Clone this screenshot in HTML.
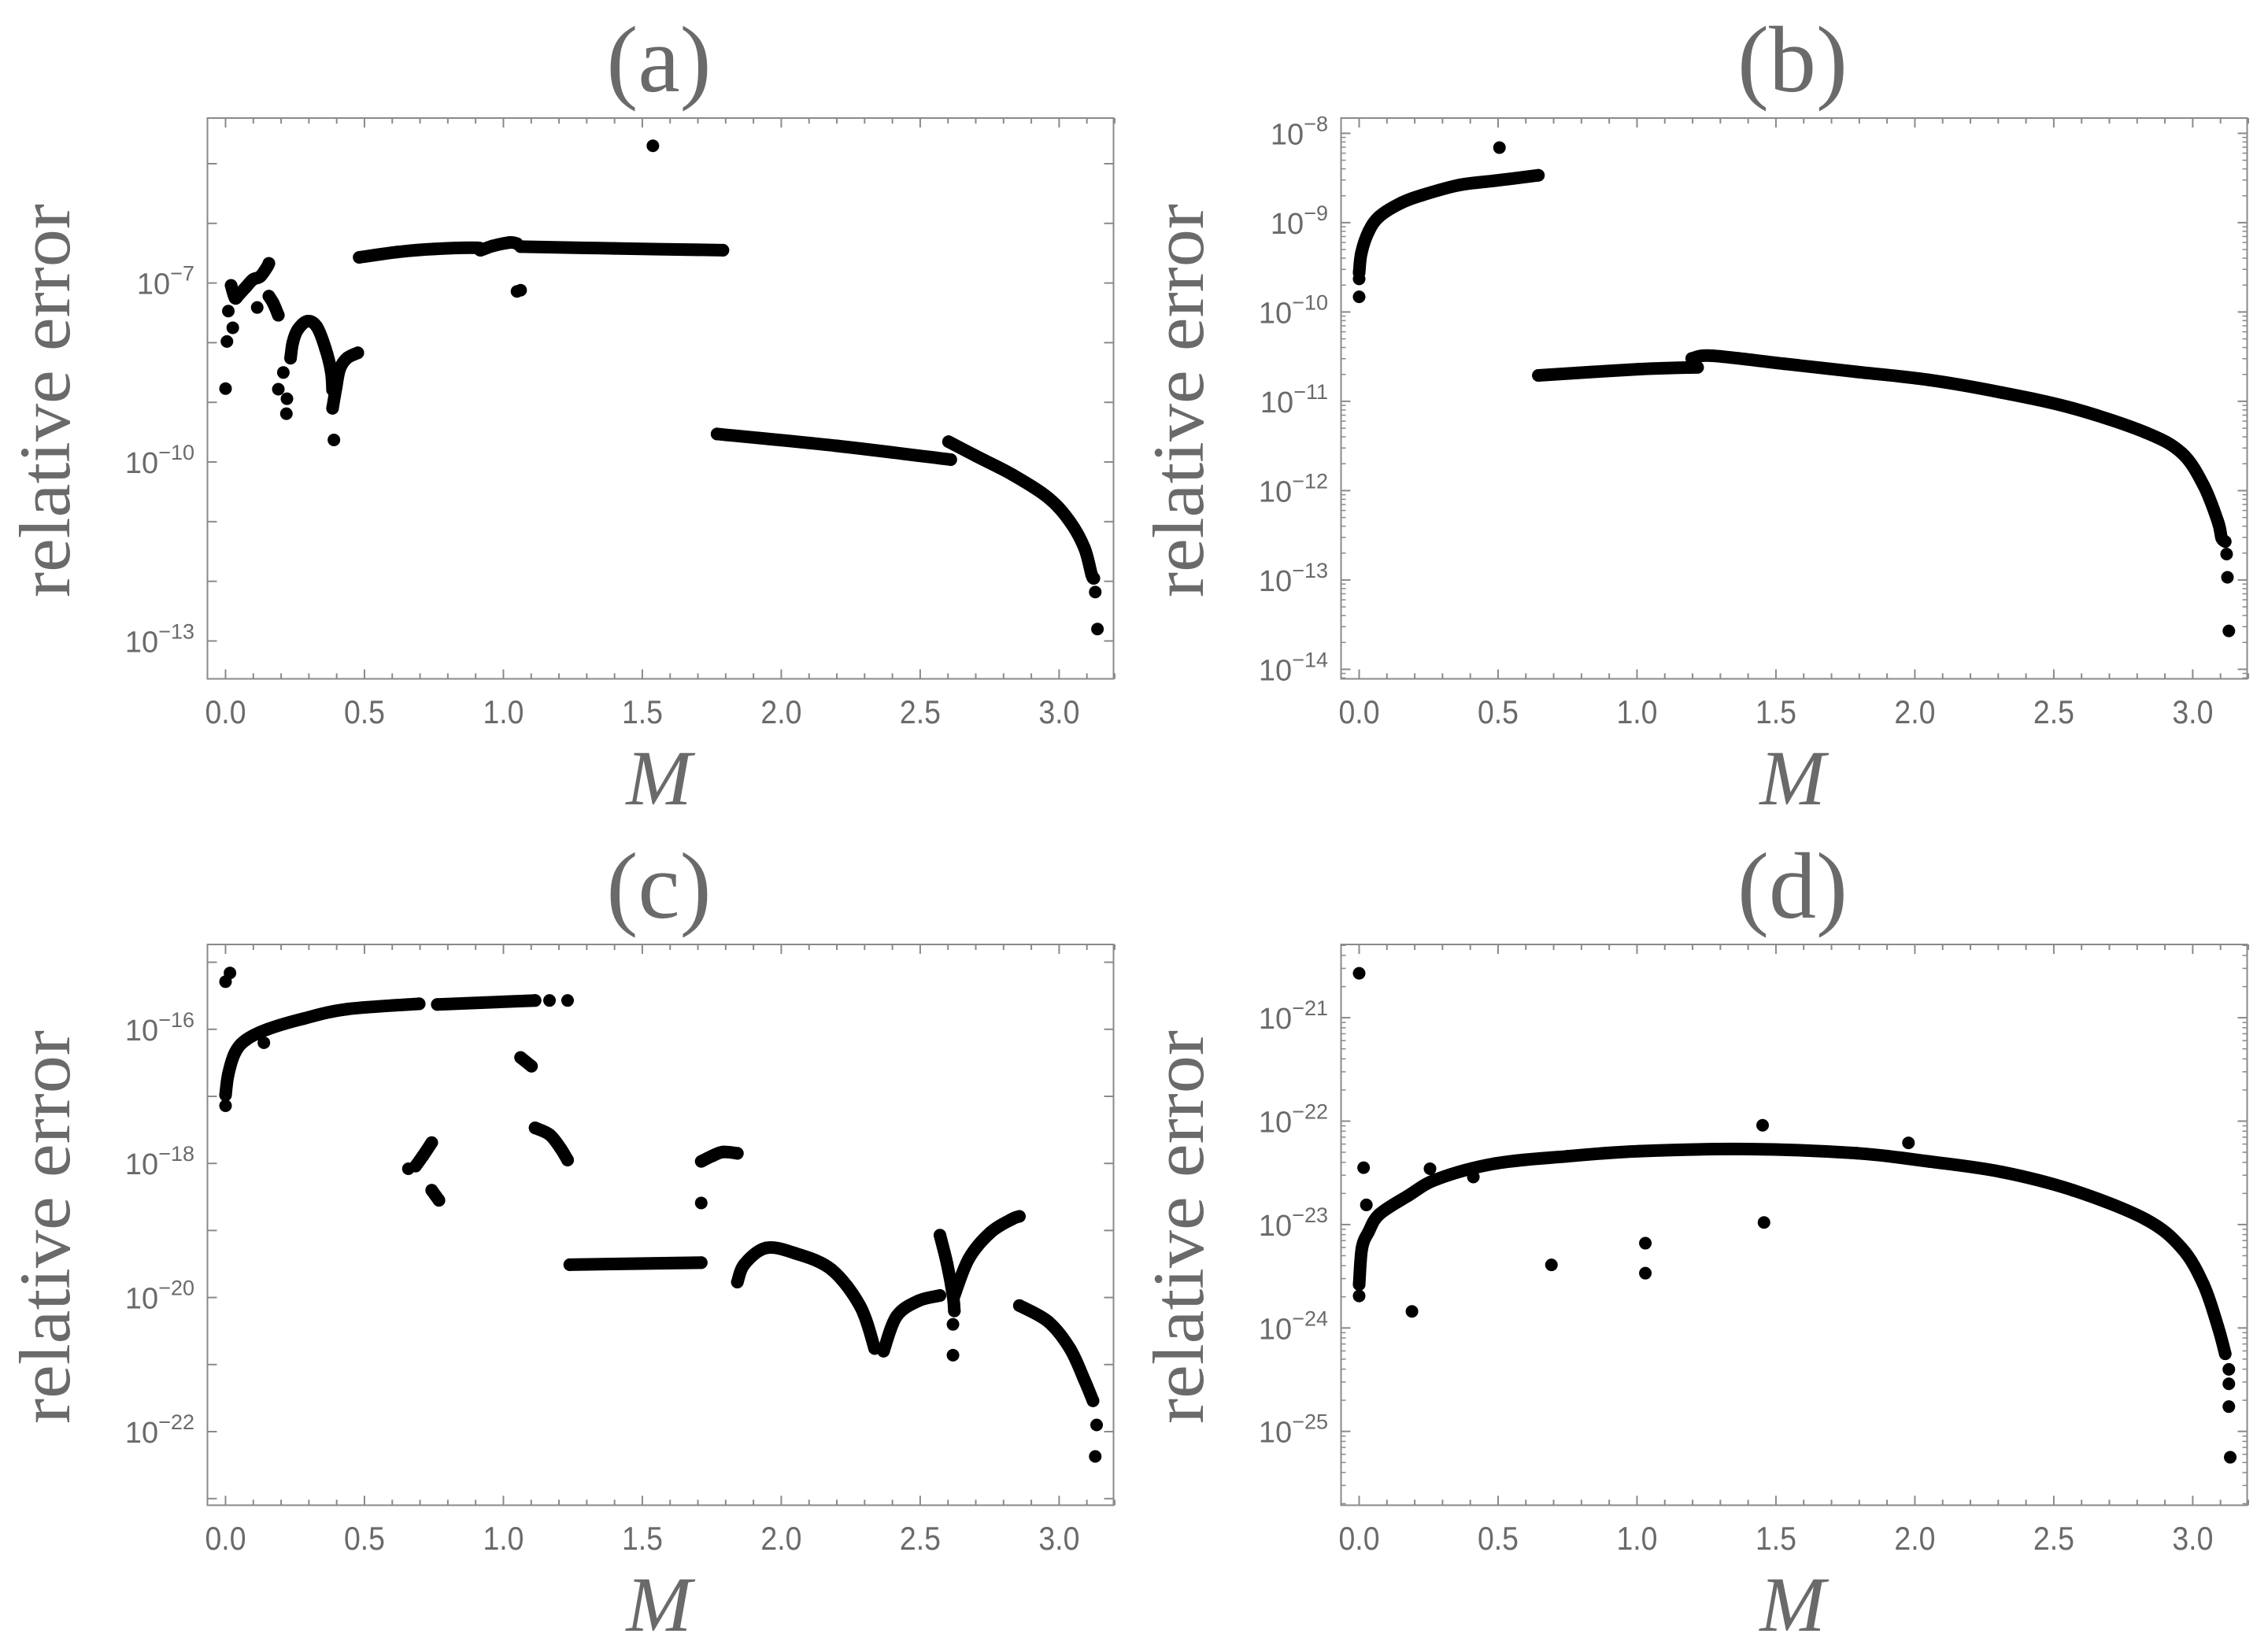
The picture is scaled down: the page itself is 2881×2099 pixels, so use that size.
<!DOCTYPE html>
<html><head><meta charset="utf-8">
<style>
html,body{margin:0;padding:0;background:#fff;}
svg{display:block;}
text{fill:#6a6a6a;}
</style></head>
<body>
<svg id="fig" width="2881" height="2099" viewBox="0 0 2881 2099" xmlns="http://www.w3.org/2000/svg"></svg>
<script>
// ---------- DATA (M values and log10 relative error) ----------
// Panel (a)
const aSegM = [[0.02,0.034,0.047,0.073,0.099,0.125,0.151,0.156],[0.156,0.172,0.19],[0.234,0.242,0.26,0.294,0.328,0.359,0.38,0.385],[0.385,0.398,0.411,0.437,0.476],[0.481,0.619,0.749,0.905,0.918,0.96,1.023,1.049],[1.062,1.4,1.79],[1.769,2.2,2.61],[2.602,2.701,2.831,2.961,3.039,3.091,3.117,3.125]];
const aSegE = [[-7.04,-7.25,-7.2,-7.07,-6.94,-6.89,-6.72,-6.67],[-7.22,-7.34,-7.54],[-8.26,-8.0,-7.78,-7.64,-7.73,-8.09,-8.48,-8.79],[-9.1,-8.75,-8.44,-8.26,-8.17],[-6.57,-6.48,-6.43,-6.41,-6.45,-6.38,-6.32,-6.34],[-6.39,-6.42,-6.45],[-9.53,-9.73,-9.96],[-9.66,-9.9,-10.21,-10.6,-11.0,-11.44,-11.89,-11.95]];
const aPtM = [0,0.005,0.01,0.026,0.114,0.19,0.208,0.221,0.219,0.39,1.049,1.062,1.538,3.13,3.138];
const aPtE = [-8.77,-7.98,-7.47,-7.75,-7.41,-8.78,-8.5,-8.94,-9.19,-9.63,-7.14,-7.12,-4.70,-12.18,-12.8];
// Panel (b)
const bSegM = [[0,0.008,0.034,0.073,0.151,0.229,0.359,0.489,0.645],[0.645,1.01,1.218],[1.197,1.27,1.53,1.79,2.05,2.31,2.571,2.831,2.961,3.039,3.091,3.104,3.117]];
const bSegE = [[-9.56,-9.34,-9.10,-8.93,-8.78,-8.69,-8.58,-8.53,-8.47],[-10.71,-10.64,-10.62],[-10.52,-10.49,-10.58,-10.67,-10.76,-10.9,-11.08,-11.35,-11.58,-11.94,-12.35,-12.53,-12.57]];
const bPtM = [0,0,0.505,3.122,3.125,3.13];
const bPtE = [-9.63,-9.83,-8.16,-12.71,-12.97,-13.57];
// Panel (c)
const cSegM = [[0,0.01,0.034,0.073,0.151,0.281,0.437,0.697],[0.762,1.114],[1.062,1.101],[0.684,0.71,0.742],[0.742,0.768],[1.114,1.166,1.205,1.231],[1.712,1.751,1.79,1.842],[1.239,1.712],[1.842,1.868,1.946,2.05,2.18,2.284,2.336],[2.368,2.415,2.493,2.571],[2.571,2.597,2.618,2.623],[2.623,2.675,2.753,2.831,2.857],[2.857,2.961,3.039,3.091,3.122]];
const cSegE = [[-16.98,-16.67,-16.35,-16.16,-16.0,-15.84,-15.7,-15.62],[-15.63,-15.57],[-16.42,-16.55],[-18.04,-17.89,-17.69],[-18.4,-18.55],[-17.47,-17.57,-17.77,-17.95],[-17.97,-17.89,-17.83,-17.85],[-19.51,-19.48],[-19.77,-19.5,-19.26,-19.34,-19.58,-20.13,-20.76],[-20.8,-20.28,-20.05,-19.97],[-19.07,-19.5,-19.97,-20.2],[-19.97,-19.42,-19.03,-18.83,-18.79],[-20.12,-20.36,-20.76,-21.23,-21.54]];
const cPtM = [0,0.016,0,0.138,0.658,1.166,1.231,1.712,2.618,2.618,3.13,3.135];
const cPtE = [-15.29,-15.16,-17.14,-16.2,-18.08,-15.57,-15.57,-18.59,-20.86,-20.4,-22.37,-21.9];
// Panel (d)
const dSegM = [[0,0.01,0.034,0.073,0.177,0.281,0.489,0.749,1.01,1.4,1.79,2.05,2.31,2.571,2.831,2.961,3.039,3.091,3.117]];
const dSegE = [[-23.58,-23.23,-23.07,-22.9,-22.72,-22.56,-22.41,-22.34,-22.29,-22.27,-22.31,-22.39,-22.49,-22.67,-22.95,-23.23,-23.58,-23.99,-24.25]];
const dPtM = [0,0,0.016,0.026,0.19,0.255,0.411,0.692,1.03,1.03,1.452,1.457,1.977,3.13,3.13,3.13,3.135];
const dPtE = [-20.57,-23.69,-22.45,-22.81,-23.84,-22.46,-22.54,-23.39,-23.18,-23.47,-22.04,-22.98,-22.21,-24.4,-24.54,-24.76,-25.25];
// Axis ticks
const xTickLabels = ["0.0","0.5","1.0","1.5","2.0","2.5","3.0"];
const aYLabels = [-7,-10,-13];
const bYLabels = [-8,-9,-10,-11,-12,-13,-14];
const cYLabels = [-16,-18,-20,-22];
const dYLabels = [-21,-22,-23,-24,-25];

// ---------- LAYOUT ----------
const NS = "http://www.w3.org/2000/svg";
const svg = document.getElementById('fig');
function mk(tag, attrs, parent) {
  const e = document.createElementNS(NS, tag);
  for (const k in attrs) e.setAttribute(k, attrs[k]);
  parent.appendChild(e);
  return e;
}
const FL = 263.5, FR = 1414.5, FT = 150, FB = 862.5;
const X0 = 286.5, XU = 352.96;

function smoothPath(P) {
  if (P.length < 3) return 'M' + P.map(p => p[0].toFixed(1) + ',' + p[1].toFixed(1)).join(' L');
  let d = 'M' + P[0][0].toFixed(1) + ',' + P[0][1].toFixed(1);
  for (let i = 0; i < P.length - 1; i++) {
    const p0 = P[Math.max(0, i - 1)], p1 = P[i], p2 = P[i + 1], p3 = P[Math.min(P.length - 1, i + 2)];
    const c1x = p1[0] + (p2[0] - p0[0]) / 6, c1y = p1[1] + (p2[1] - p0[1]) / 6;
    const c2x = p2[0] - (p3[0] - p1[0]) / 6, c2y = p2[1] - (p3[1] - p1[1]) / 6;
    d += ` C${c1x.toFixed(1)},${c1y.toFixed(1)} ${c2x.toFixed(1)},${c2y.toFixed(1)} ${p2[0].toFixed(1)},${p2[1].toFixed(1)}`;
  }
  return d;
}

function panel(ox, oy, title, ymin, ymax, refE, refY, decPx, labels, subticks, segM, segE, ptM, ptE, key) {
  const g = mk('g', {transform: `translate(${ox},${oy})`}, svg);
  
  
  const xs = m => X0 + m * XU;
  const ys = e => refY - (e - refE) * decPx;

  const t = mk('text', {x: 837, y: 116, 'text-anchor': 'middle', 'font-family': '"Liberation Serif", serif', 'font-size': 120}, g);
  t.textContent = title;
  
  

  const fr = mk('rect', {x: FL, y: FT, width: FR - FL, height: FB - FT, fill: 'none', stroke: '#8a8a8a', 'stroke-width': 2}, g);
  
  

  for (let i = 0; i <= 32; i++) {
    const m = i / 10, x = xs(m), major = i % 5 === 0, L = major ? 12 : 7;
    mk('line', {x1: x, x2: x, y1: FB, y2: FB - L, stroke: '#8a8a8a', 'stroke-width': 2}, g);
    mk('line', {x1: x, x2: x, y1: FT, y2: FT + L, stroke: '#8a8a8a', 'stroke-width': 2}, g);
  }
  xTickLabels.forEach((lab, i) => {
    const tx = mk('text', {x: xs(i * 0.5), y: 919, 'text-anchor': 'middle', 'font-family': '"Liberation Sans", sans-serif', 'font-size': 42, textLength: 52, lengthAdjust: 'spacingAndGlyphs'}, g);
    tx.textContent = lab;
    
    
  });
  for (let e = Math.ceil(ymin); e <= Math.floor(ymax); e++) {
    const y = ys(e);
    mk('line', {x1: FL, x2: FL + 12, y1: y, y2: y, stroke: '#8a8a8a', 'stroke-width': 2}, g);
    mk('line', {x1: FR, x2: FR - 12, y1: y, y2: y, stroke: '#8a8a8a', 'stroke-width': 2}, g);
  }
  if (subticks) {
    for (let e = Math.floor(ymin); e <= Math.floor(ymax); e++) {
      for (let k = 2; k <= 9; k++) {
        const v = e + Math.log10(k);
        if (v < ymin || v > ymax) continue;
        const y = ys(v);
        mk('line', {x1: FL, x2: FL + 6, y1: y, y2: y, stroke: '#8a8a8a', 'stroke-width': 1.5}, g);
        mk('line', {x1: FR, x2: FR - 6, y1: y, y2: y, stroke: '#8a8a8a', 'stroke-width': 1.5}, g);
      }
    }
  }
  labels.forEach(e => {
    const ty = mk('text', {x: 247, y: ys(e) + 14, 'text-anchor': 'end', 'font-family': '"Liberation Sans", sans-serif', 'font-size': 38}, g);
    
    
    const a = mk('tspan', {}, ty); a.textContent = '10';
    const b = mk('tspan', {dy: -17, 'font-size': 27}, ty); b.textContent = '\u2212' + Math.abs(e);
  });

  const yl = mk('text', {x: 0, y: 0, transform: 'translate(88,509) rotate(-90)', 'text-anchor': 'middle', 'font-family': '"Liberation Serif", serif', 'font-size': 92, textLength: 500, lengthAdjust: 'spacingAndGlyphs'}, g);
  yl.textContent = 'relative error';
  
  

  const xl = mk('text', {x: 837, y: 1022, 'text-anchor': 'middle', 'font-family': '"Liberation Serif", serif', 'font-size': 100, 'font-style': 'italic'}, g);
  xl.textContent = 'M';
  
  

  const dg = mk('g', {}, g);
  
  
  segM.forEach((ms, i) => {
    const P = ms.map((m, j) => [xs(m), ys(segE[i][j])]);
    const pl = mk('path', {d: smoothPath(P), fill: 'none', stroke: '#000', 'stroke-width': 16, 'stroke-linecap': 'round', 'stroke-linejoin': 'round'}, dg);
    
    
    ms.forEach((m, j) => {
      const c = mk('circle', {cx: xs(m), cy: ys(segE[i][j]), r: 8, fill: '#000'}, dg);
      
      
    });
  });
  ptM.forEach((m, j) => {
    const c = mk('circle', {cx: xs(m), cy: ys(ptE[j]), r: 8, fill: '#000'}, dg);
    
    
  });
}

panel(0, 0, '(a)', -13.63, -4.23, -7, 359.6, 75.8, aYLabels, false, aSegM, aSegE, aPtM, aPtE, 'a');
panel(1440, 0, '(b)', -14.11, -7.83, -8, 169.4, 113.5, bYLabels, true, bSegM, bSegE, bPtM, bPtE, 'b');
panel(0, 1050, '(c)', -23.1, -14.73, -16, 257.8, 85.2, cYLabels, false, cSegM, cSegE, cPtM, cPtE, 'c');
panel(1440, 1050, '(d)', -25.71, -20.29, -21, 243.1, 131.4, dYLabels, true, dSegM, dSegE, dPtM, dPtE, 'd');
</script>
</body></html>
